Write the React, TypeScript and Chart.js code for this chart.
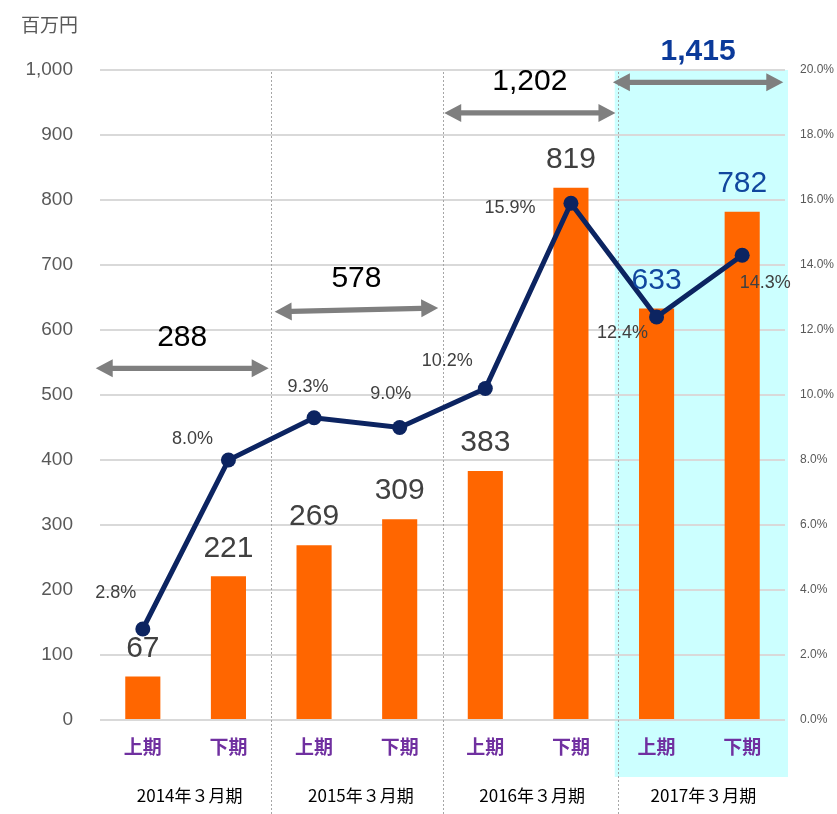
import React, { useEffect, useRef } from 'react';
import { Chart, registerables } from 'chart.js';

Chart.register(...registerables);

const HALVES = ['上期', '下期', '上期', '下期', '上期', '下期', '上期', '下期'];
const YEARS = ['2014年３月期', '2015年３月期', '2016年３月期', '2017年３月期'];
const SALES = [67, 221, 269, 309, 383, 819, 633, 782];
const RATES = [2.8, 8.0, 9.3, 9.0, 10.2, 15.9, 12.4, 14.3];
const LEFT_TICKS_MAX = 1000;
const RIGHT_TICKS_MAX = 20;
const ARROW_LABELS = ['288', '578', '1,202', '1,415'];
const ARROW_FROM = [-0.55, 1.54, 3.52, 5.49];
const ARROW_TO = [1.47, 3.45, 5.52, 7.48];
const ARROW_Y_FROM = [541, 628, 934, 981];
const ARROW_Y_TO = [541, 634, 934, 981];

// styling only
const PCT_OFFSETS = [[-27, -36], [-36, -21], [-6, -31], [-9, -33], [-38, -27], [-61, 5], [-34, 16], [23, 28]];
const BAR_LABEL_COLORS = ['#404040', '#404040', '#404040', '#404040', '#404040', '#404040', '#11479e', '#11479e'];

const NUM_FONT = '"Liberation Sans", Arial, sans-serif';
const CJK_FONT = '"Noto Sans CJK JP", "Liberation Sans", sans-serif';

function drawArrow(ctx: CanvasRenderingContext2D, x1: number, y1: number, x2: number, y2: number) {
  const ang = Math.atan2(y2 - y1, x2 - x1);
  const len = Math.hypot(x2 - x1, y2 - y1);
  const head = 17;
  const hw = 9;
  const sw = 2.6;
  ctx.save();
  ctx.translate(x1, y1);
  ctx.rotate(ang);
  ctx.fillStyle = '#7f7f7f';
  ctx.beginPath();
  ctx.moveTo(0, 0);
  ctx.lineTo(head, -hw);
  ctx.lineTo(head, -sw);
  ctx.lineTo(len - head, -sw);
  ctx.lineTo(len - head, -hw);
  ctx.lineTo(len, 0);
  ctx.lineTo(len - head, hw);
  ctx.lineTo(len - head, sw);
  ctx.lineTo(head, sw);
  ctx.lineTo(head, hw);
  ctx.closePath();
  ctx.fill();
  ctx.restore();
}

const decorPlugin = {
  id: 'decor',
  beforeDraw(chart: any) {
    const { ctx, chartArea, scales } = chart;
    const x = scales.x;
    const left = x.getPixelForValue(5.5) + 1;
    ctx.save();
    ctx.fillStyle = '#ccffff';
    ctx.fillRect(left, chartArea.top, chartArea.right + 3 - left, 777 - chartArea.top);
    ctx.restore();
  },
  beforeDatasetsDraw(chart: any) {
    const { ctx, chartArea, scales } = chart;
    const x = scales.x;
    ctx.save();
    ctx.strokeStyle = '#a6a6a6';
    ctx.lineWidth = 1;
    ctx.setLineDash([2, 2]);
    [1.5, 3.5, 5.5].forEach((v) => {
      const px = Math.round(x.getPixelForValue(v)) + 0.5 + (v === 5.5 ? 4 : 0);
      ctx.beginPath();
      ctx.moveTo(px, chartArea.top + 2);
      ctx.lineTo(px, chart.height);
      ctx.stroke();
    });
    ctx.restore();
  },
  afterDraw(chart: any) {
    const { ctx, scales } = chart;
    const x = scales.x;
    const y = scales.y;
    const y2 = scales.y2;
    ctx.save();
    // axis title
    ctx.fillStyle = '#595959';
    ctx.font = `19px ${CJK_FONT}`;
    ctx.textAlign = 'left';
    ctx.textBaseline = 'middle';
    ctx.fillText('百万円', 21, 25);

    // half labels
    ctx.textAlign = 'center';
    ctx.fillStyle = '#7030a0';
    ctx.font = `bold 19px ${CJK_FONT}`;
    HALVES.forEach((h, i) => ctx.fillText(h, x.getPixelForValue(i), 747));

    // year labels
    ctx.fillStyle = '#000000';
    ctx.font = `17px ${CJK_FONT}`;
    YEARS.forEach((yr, i) => {
      const cx = (x.getPixelForValue(i * 2) + x.getPixelForValue(i * 2 + 1)) / 2 + 4;
      ctx.fillText(yr, cx, 796);
    });

    // bar labels
    ctx.font = `30px ${NUM_FONT}`;
    SALES.forEach((v, i) => {
      ctx.fillStyle = BAR_LABEL_COLORS[i];
      ctx.fillText(String(v), x.getPixelForValue(i), y.getPixelForValue(v) - 28);
    });

    // percentage labels
    ctx.font = `18px ${NUM_FONT}`;
    ctx.fillStyle = '#404040';
    RATES.forEach((r, i) => {
      const [dx, dy] = PCT_OFFSETS[i];
      ctx.fillText(r.toFixed(1) + '%', x.getPixelForValue(i) + dx, y2.getPixelForValue(r) + dy);
    });

    // arrows
    ARROW_LABELS.forEach((lab, i) => {
      const x1 = x.getPixelForValue(ARROW_FROM[i]);
      const x2 = x.getPixelForValue(ARROW_TO[i]);
      const ya = y.getPixelForValue(ARROW_Y_FROM[i]);
      const yb = y.getPixelForValue(ARROW_Y_TO[i]);
      drawArrow(ctx, x1, ya, x2, yb);
      const last = i === ARROW_LABELS.length - 1;
      ctx.font = `${last ? 'bold ' : ''}30px ${NUM_FONT}`;
      ctx.fillStyle = last ? '#0b3a9a' : '#000000';
      ctx.fillText(lab, (x1 + x2) / 2, (ya + yb) / 2 - 31);
    });
    ctx.restore();
  },
};

export default function App() {
  const ref = useRef<HTMLCanvasElement | null>(null);
  useEffect(() => {
    if (!ref.current) return;
    const chart = new Chart(ref.current, {
      type: 'bar',
      data: {
        labels: HALVES,
        datasets: [
          {
            type: 'line',
            label: '利益率',
            data: RATES,
            yAxisID: 'y2',
            borderColor: '#0c2461',
            backgroundColor: '#0c2461',
            borderWidth: 5,
            pointRadius: 7.5,
            pointBackgroundColor: '#0c2461',
            pointBorderWidth: 0,
            tension: 0,
            order: 0,
          } as any,
          {
            type: 'bar',
            label: '売上',
            data: SALES,
            yAxisID: 'y',
            backgroundColor: '#ff6600',
            categoryPercentage: 1,
            barPercentage: 0.41,
            order: 1,
          },
        ],
      },
      options: {
        responsive: false,
        animation: false,
        layout: { padding: { top: 70, left: 0, right: 0, bottom: 0 } },
        plugins: { legend: { display: false }, tooltip: { enabled: false } },
        scales: {
          x: {
            offset: true,
            grid: { display: false },
            border: { display: false },
            ticks: { display: false },
            afterFit: (s: any) => { s.height = 94; },
          },
          y: {
            position: 'left',
            min: 0,
            max: LEFT_TICKS_MAX,
            grid: { color: '#d9d9d9', lineWidth: 2, drawTicks: false },
            border: { display: false },
            ticks: {
              stepSize: 100,
              padding: 27,
              color: '#595959',
              font: { family: NUM_FONT, size: 19 },
              callback: (v: any) => Number(v).toLocaleString('en-US'),
            },
            afterFit: (s: any) => { s.width = 100; },
          },
          y2: {
            position: 'right',
            min: 0,
            max: RIGHT_TICKS_MAX,
            grid: { drawOnChartArea: false, drawTicks: false },
            border: { display: false },
            ticks: {
              stepSize: 2,
              padding: 15,
              color: '#595959',
              font: { family: NUM_FONT, size: 12 },
              callback: (v: any) => Number(v).toFixed(1) + '%',
            },
            afterFit: (s: any) => { s.width = 52; },
          },
        },
      },
      plugins: [decorPlugin],
    });
    return () => chart.destroy();
  }, []);
  return (
    <div style={{ position: 'absolute', left: 0, top: 0, width: 837, height: 814, background: '#fff' }}>
      <canvas ref={ref} width={837} height={814} style={{ display: 'block' }} />
    </div>
  );
}
